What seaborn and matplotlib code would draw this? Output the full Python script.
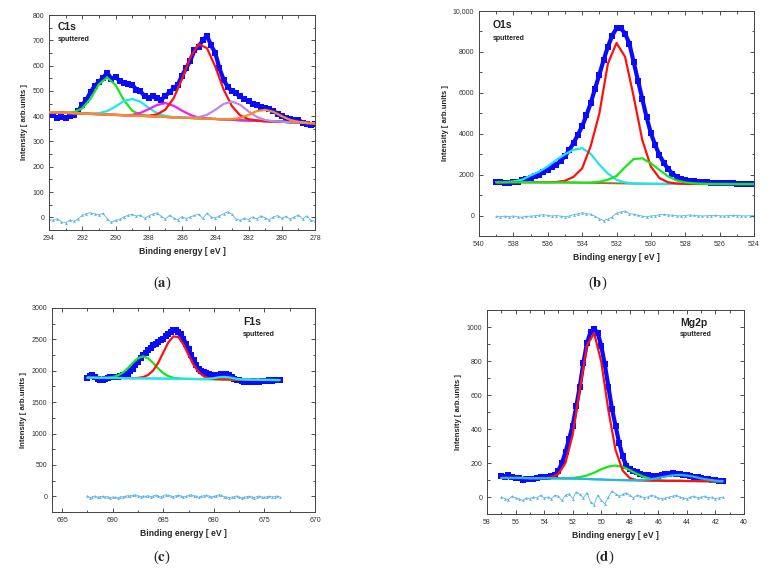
import matplotlib
matplotlib.use("Agg")
import matplotlib.pyplot as plt
import numpy as np
import pandas as pd
import seaborn as sns
from matplotlib.ticker import MultipleLocator, FuncFormatter

# ---------------- C1s (a) ----------------
c1s_range = (294.0, 278.0)
c1s_counts = [408, 405, 392, 398, 392, 400, 405, 420,
              445, 465, 495, 520, 535, 552, 572, 548,
              555, 540, 530, 528, 525, 505, 498, 480,
              470, 478, 470, 465, 480, 495, 510, 525,
              560, 590, 620, 660, 675, 700, 718, 680,
              650, 590, 545, 515, 500, 490, 478, 468,
              460, 450, 445, 438, 432, 428, 420, 410,
              400, 392, 388, 385, 385, 375, 368, 366,
              368]
c1s_resid = [-8, -12, -5, -18, -22, -10, -15, -6,
             8, 15, 18, 14, 10, 16, -5, -20,
             -12, -8, 2, 8, 12, 5, 9, -4,
             6, 14, 18, 4, -6, 8, -3, -10,
             3, -5, 2, 8, 12, -4, 16, 2,
             -2, 6, 14, 22, 12, -6, -12, -3,
             -9, 2, -6, 6, -2, -9, 2, 7,
             -4, 4, -7, 1, 10, -6, 6, -12,
             -15]
c1s_background = [416, 415, 413, 412, 411, 409, 408, 406,
                  405, 404, 402, 401, 400, 398, 397, 395,
                  394, 393, 391, 390, 389, 387, 386, 384,
                  383, 382, 380, 379, 378, 376, 375, 373,
                  372]
c1s_peaks = {
    "green":   [0, 0, 0, 4, 20, 60, 118, 147, 118, 60, 20, 4, 0, 0, 0, 0,
                0, 0, 0, 0, 0, 0, 0, 0, 0, 0, 0, 0, 0, 0, 0, 0, 0],
    "cyan":    [0, 0, 0, 0, 0, 0, 4, 14, 33, 56, 66, 56, 33, 14, 4, 1,
                0, 0, 0, 0, 0, 0, 0, 0, 0, 0, 0, 0, 0, 0, 0, 0, 0],
    "magenta": [0, 0, 0, 0, 0, 0, 0, 0, 0, 0, 3, 12, 28, 46, 55, 46,
                28, 12, 3, 1, 0, 0, 0, 0, 0, 0, 0, 0, 0, 0, 0, 0, 0],
    "red":     [0, 0, 0, 0, 0, 0, 0, 0, 0, 0, 0, 0, 2, 9, 29, 76,
                153, 240, 294, 279, 207, 119, 54, 19, 5, 1, 0, 0, 0, 0, 0, 0, 0],
    "purple":  [0, 0, 0, 0, 0, 0, 0, 0, 0, 0, 0, 0, 0, 0, 0, 0,
                0, 0, 5, 15, 36, 61, 72, 61, 36, 15, 5, 1, 0, 0, 0, 0, 0],
    "orange":  [0, 0, 0, 0, 0, 0, 0, 0, 0, 0, 0, 0, 0, 0, 0, 0,
                0, 0, 0, 0, 0, 0, 3, 9, 22, 38, 45, 38, 22, 9, 3, 1, 0],
}

# ---------------- O1s (b) ----------------
o1s_range = (539.0, 524.0)
o1s_counts = [1620, 1640, 1610, 1590, 1620, 1660, 1720, 1780,
              1840, 1920, 2000, 2110, 2240, 2360, 2490, 2680,
              2890, 3200, 3545, 3950, 4360, 4900, 5500, 6200,
              6880, 7600, 8260, 8800, 9150, 9150, 8900, 8400,
              7500, 6600, 5700, 4800, 4030, 3450, 2950, 2580,
              2280, 2050, 1900, 1800, 1740, 1700, 1670, 1650,
              1630, 1620, 1610, 1600, 1600, 1590, 1580, 1570,
              1560, 1560, 1550, 1550, 1545]
o1s_resid = [-40, -60, -30, -50, -20, -60, -80, -40,
             -30, -10, 20, 40, 10, -20, 0, -30,
             -60, -20, 40, 80, 140, 100, 60, -40,
             -150, -250, -180, -60, 120, 180, 220, 100,
             60, 20, -30, -60, -20, 0, 40, 60,
             30, 20, -10, -20, 0, 30, 10, -10,
             -20, -10, 0, 10, -10, -20, 0, 10,
             0, -10, -20, -10, 0]
o1s_background = [1630, 1630, 1630, 1630, 1630, 1628, 1625, 1622,
                  1618, 1612, 1605, 1598, 1590, 1582, 1575, 1568,
                  1562, 1557, 1553, 1550, 1548, 1546, 1545, 1544,
                  1543, 1542, 1541, 1540, 1540, 1540, 1540]
o1s_peaks = {
    "cyan":  [0, 0, 40, 120, 330, 520, 780, 1100, 1380, 1600, 1690, 1420, 900, 470, 170, 50,
              10, 0, 0, 0, 0, 0, 0, 0, 0, 0, 0, 0, 0, 0, 0],
    "red":   [0, 0, 0, 0, 0, 0, 5, 20, 80, 280, 700, 1800, 3390, 5850, 6860, 6190,
              4250, 2135, 840, 280, 75, 20, 5, 0, 0, 0, 0, 0, 0, 0, 0],
    "green": [0, 0, 0, 0, 0, 0, 0, 0, 0, 0, 0, 15, 60, 170, 360, 800,
              1200, 1240, 1000, 680, 370, 170, 75, 30, 10, 0, 0, 0, 0, 0, 0],
}

# ---------------- F1s (c) ----------------
f1s_range = (692.5, 673.5)
f1s_counts = [1890, 1920, 1930, 1900, 1870, 1860, 1855, 1870,
              1890, 1895, 1900, 1895, 1900, 1915, 1930, 1940,
              1955, 1990, 2030, 2085, 2140, 2200, 2245, 2290,
              2325, 2370, 2405, 2430, 2460, 2490, 2510, 2550,
              2590, 2620, 2645, 2650, 2620, 2580, 2510, 2430,
              2350, 2250, 2165, 2090, 2035, 2000, 1980, 1965,
              1955, 1940, 1930, 1930, 1935, 1950, 1955, 1945,
              1925, 1900, 1875, 1860, 1850, 1835, 1820, 1825,
              1820, 1815, 1830, 1825, 1820, 1830, 1830, 1840,
              1850, 1835, 1850, 1855, 1860]
f1s_resid = [10, -20, -10, 5, -15, -5, 0, -10,
             -5, -20, -10, -15, -25, -10, -5, 0,
             10, 5, 15, 25, 10, -5, 5, 0,
             10, -5, 5, 20, 5, -10, 10, 25,
             15, 5, -5, 10, 20, 5, -10, 0,
             15, 25, 10, 5, -15, 0, 10, 20,
             5, -10, 0, 10, 25, 15, -5, -10,
             -20, -15, -5, 5, -10, -25, -15, -5,
             0, -10, -20, -5, 5, -10, -15, -5,
             0, -10, -5, 5, -5]
f1s_background = [1890, 1889, 1888, 1887, 1886, 1885, 1884, 1883,
                  1882, 1881, 1880, 1879, 1878, 1877, 1876, 1875,
                  1874, 1873, 1872, 1871, 1870, 1869, 1868, 1867,
                  1866, 1865, 1864, 1863, 1862, 1861, 1860, 1859,
                  1858, 1857, 1856, 1855, 1854, 1853, 1852]
f1s_peaks = {
    "green": [0, 0, 0, 1, 5, 15, 40, 87, 160, 247, 321, 350, 321, 247, 160, 87,
              40, 15, 5, 1, 0, 0, 0, 0, 0, 0, 0, 0, 0, 0, 0, 0,
              0, 0, 0, 0, 0, 0, 0],
    "red":   [0, 0, 0, 0, 0, 0, 0, 0, 0, 1, 6, 20, 55, 127, 251, 415,
              578, 675, 664, 548, 381, 223, 109, 45, 16, 5, 1, 0, 0, 0, 0, 0,
              0, 0, 0, 0, 0, 0, 0],
    "cyan":  [0, 0, 0, 0, 0, 0, 0, 0, 0, 0, 0, 0, 0, 0, 0, 0,
              0, 0, 0, 0, 0, 0, 0, 2, 7, 18, 33, 40, 33, 18, 7, 2,
              0, 0, 0, 0, 0, 0, 0],
}

# ---------------- Mg2p (d) ----------------
mg2p_range = (57.0, 41.5)
mg2p_counts = [122, 118, 128, 115, 112, 110, 100, 105,
               106, 108, 112, 118, 118, 120, 122, 130,
               155, 200, 265, 340, 420, 533, 650, 790,
               905, 970, 990, 965, 890, 780, 650, 520,
               420, 320, 240, 185, 165, 152, 145, 138,
               130, 128, 125, 122, 125, 130, 135, 138,
               140, 138, 136, 132, 128, 125, 120, 115,
               112, 108, 105, 100, 98, 95, 92]
mg2p_resid = [0, -10, -15, 5, -5, -10, -20, -5,
              -10, 0, -5, 10, -5, 0, -10, 10,
              5, -20, 10, 20, -10, 30, 15, -5,
              25, -30, -45, 10, -20, -40, 0, 35,
              20, 5, 15, 25, 10, -5, 10, 5,
              -5, 0, 10, 5, -5, -10, -5, 0,
              5, 10, 0, -5, -10, 0, 5, -5,
              0, 5, -5, 0, -10, -5, 0]
mg2p_background = [112, 112, 112, 112, 111, 111, 111, 110,
                   110, 109, 108, 107, 106, 104, 103, 101,
                   100, 99, 98, 97, 97, 96, 96, 95,
                   95, 95, 94, 94, 93, 93, 92, 92]
mg2p_peaks = {
    "green": [0, 0, 0, 0, 0, 0, 0, 0, 0, 1, 4, 10, 21, 39, 60, 78,
              85, 78, 60, 39, 21, 10, 4, 1, 0, 0, 0, 0, 0, 0, 0, 0],
    "red":   [0, 0, 0, 0, 0, 0, 0, 5, 25, 93, 258, 525, 784, 860, 693, 410,
              178, 57, 13, 2, 0, 0, 0, 0, 0, 0, 0, 0, 0, 0, 0, 0],
    "blue":  [0, 0, 0, 0, 0, 0, 0, 0, 0, 0, 0, 0, 0, 0, 0, 0,
              0, 0, 0, 2, 4, 9, 16, 25, 32, 35, 32, 25, 16, 9, 4, 2],
}

colours = {"green": "#19e619", "cyan": "#1ee6ee", "magenta": "#f01ef0",
           "red": "#ff1010", "purple": "#b98ae6", "orange": "#ff8a1e",
           "blue": "#28b4e6"}

panels = [
    dict(name="C1s", rng=c1s_range, counts=c1s_counts, resid=c1s_resid,
         bg=c1s_background, peaks=c1s_peaks, bgcol="#c87828",
         xlim=(294, 278), xstep=2, ylim=(-50, 800), ystep=100,
         pos=(49, 15, 315, 230), label_xy=(0.034, 0.945), cap="a", cap_xy=(162, 283)),
    dict(name="O1s", rng=o1s_range, counts=o1s_counts, resid=o1s_resid,
         bg=o1s_background, peaks=o1s_peaks, bgcol="#8c7a2a",
         xlim=(540, 524), xstep=2, ylim=(-1000, 10000), ystep=2000,
         pos=(479, 11, 754, 236), label_xy=(0.05, 0.938), cap="b", cap_xy=(598, 283)),
    dict(name="F1s", rng=f1s_range, counts=f1s_counts, resid=f1s_resid,
         bg=f1s_background, peaks=f1s_peaks, bgcol="#1ee6ee",
         xlim=(696, 670), xstep=5, ylim=(-250, 3000), ystep=500,
         pos=(52, 308, 315, 512), label_xy=(0.726, 0.93), cap="c", cap_xy=(162, 557)),
    dict(name="Mg2p", rng=mg2p_range, counts=mg2p_counts, resid=mg2p_resid,
         bg=mg2p_background, peaks=mg2p_peaks, bgcol="#1ee6ee",
         xlim=(58, 40), xstep=2, ylim=(-100, 1100), ystep=200,
         pos=(487, 310, 744, 514), label_xy=(0.751, 0.936), cap="d", cap_xy=(605, 557)),
]

sns.set_style("ticks")
plt.rcParams["font.family"] = ["Liberation Sans", "DejaVu Sans"]
plt.rcParams["mathtext.fontset"] = "stix"

W, H = 767, 572
fig = plt.figure(figsize=(W / 100, H / 100), dpi=100)


def energies(rng, vals):
    return np.linspace(rng[0], rng[1], len(vals))


def y_fmt(v, _):
    return f"{v:,.0f}" if abs(v) >= 10000 else f"{v:.0f}"


for p in panels:
    l, t, r, b = p["pos"]
    ax = fig.add_axes([l / W, 1 - b / H, (r - l) / W, (b - t) / H])

    data = pd.DataFrame({"E": energies(p["rng"], p["counts"]), "I": p["counts"],
                         "res": p["resid"]})
    fit = pd.DataFrame({"E": energies(p["rng"], p["bg"]), "bg": p["bg"]})

    # measured spectrum: thick band of square symbols
    sns.lineplot(data=data, x="E", y="I", ax=ax, color="#0a0aff", lw=3.0,
                 marker="s", markersize=4.0, mew=0, zorder=2)
    # residual
    sns.lineplot(data=data, x="E", y="res", ax=ax, color="#5ab4ee", lw=0.6,
                 marker="^", markersize=2.0, mew=0, zorder=2)
    # background
    sns.lineplot(data=fit, x="E", y="bg", ax=ax, color=p["bgcol"], lw=1.4, zorder=3)
    # fitted components on top of the background
    for key, vals in p["peaks"].items():
        fit[key] = fit["bg"] + np.array(vals)
        sns.lineplot(data=fit, x="E", y=key, ax=ax, color=colours[key], lw=1.6, zorder=4)

    ax.set_xlim(*p["xlim"])
    ax.set_ylim(*p["ylim"])
    ax.xaxis.set_major_locator(MultipleLocator(p["xstep"]))
    ax.xaxis.set_minor_locator(MultipleLocator(p["xstep"] / 2))
    ax.yaxis.set_major_locator(MultipleLocator(p["ystep"]))
    ax.yaxis.set_minor_locator(MultipleLocator(p["ystep"] / 2))
    ax.yaxis.set_major_formatter(FuncFormatter(y_fmt))
    ax.tick_params(which="both", direction="in", top=True, right=True,
                   labelsize=5, colors="#333333", width=0.6)
    ax.tick_params(which="major", length=3)
    ax.tick_params(which="minor", length=1.8)
    for s in ax.spines.values():
        s.set_linewidth(0.7)
        s.set_color("#444444")

    ax.set_xlabel("Binding energy [ eV ]", fontsize=6.2, fontweight="bold", labelpad=4)
    ax.set_ylabel("Intensity [ arb.units ]", fontsize=5.6, fontweight="bold", labelpad=3)

    lx, ly = p["label_xy"]
    ax.text(lx, ly, p["name"], transform=ax.transAxes, fontsize=7.5,
            fontweight="bold", va="center", ha="left", color="#222222")
    ax.text(lx, ly - 0.058, "sputtered", transform=ax.transAxes, fontsize=5,
            fontweight="bold", va="center", ha="left", color="#222222")

    cx, cy = p["cap_xy"]
    fig.text(cx / W, 1 - cy / H, "(" + r"$\mathbf{" + p["cap"] + "}$" + ")",
             fontsize=10.5, family="Liberation Serif", ha="center", va="center")

fig.savefig("out.png", dpi=100)
